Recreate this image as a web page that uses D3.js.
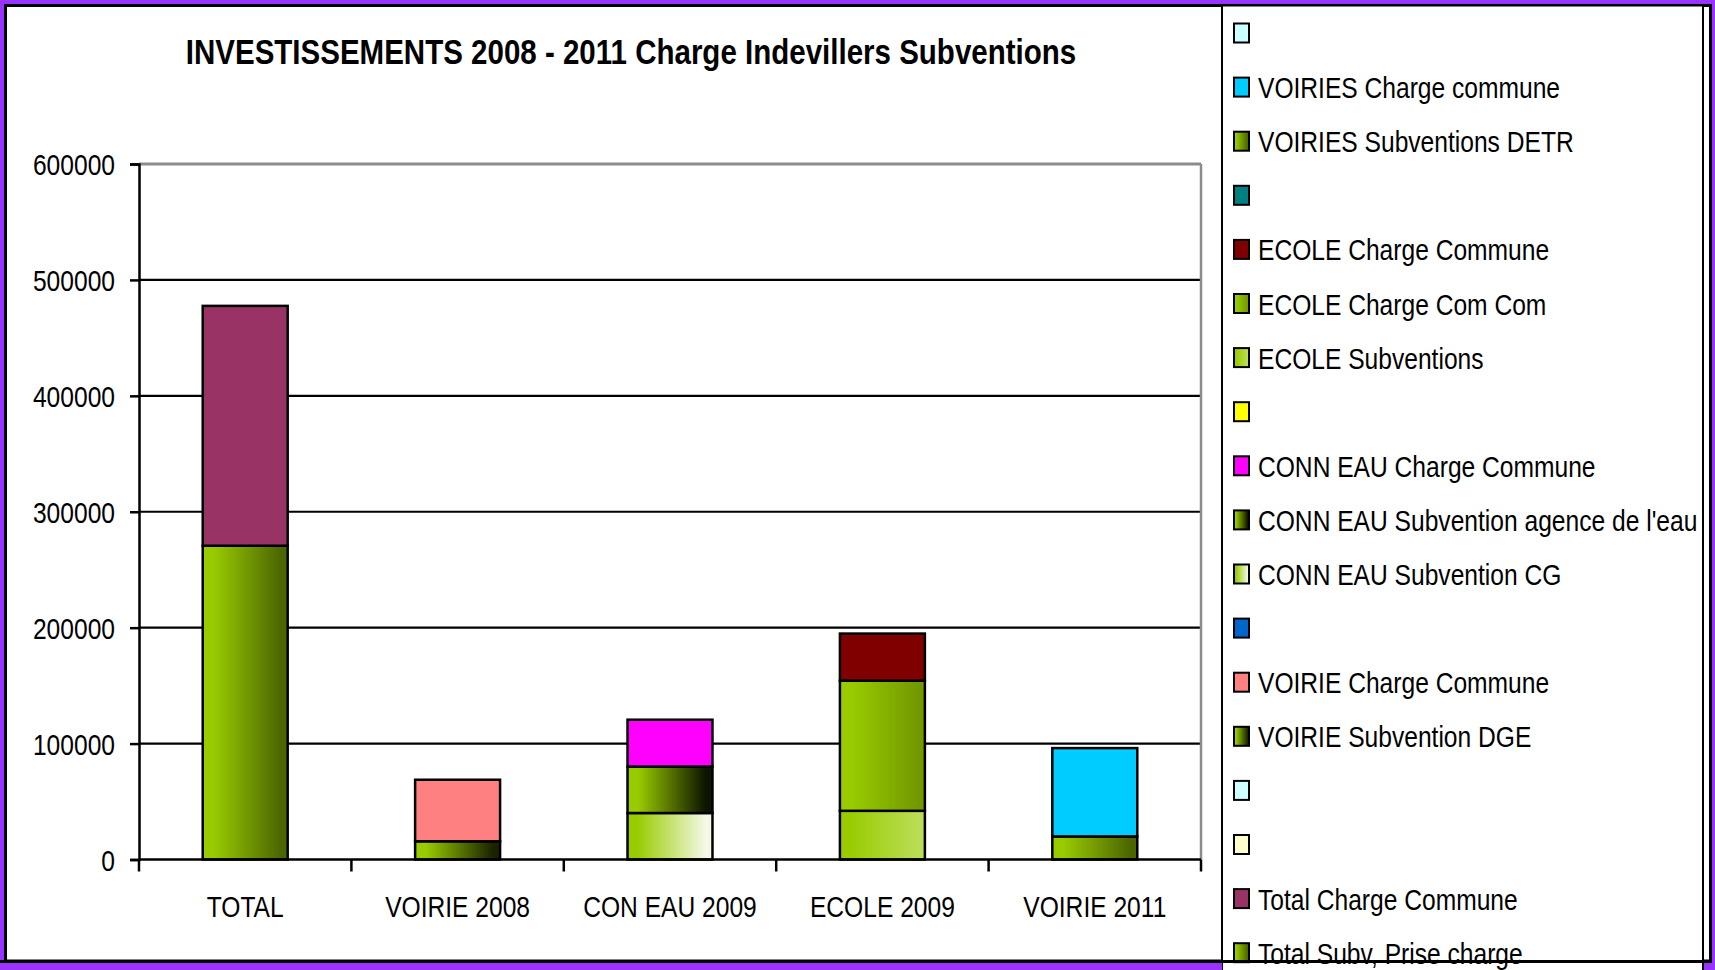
<!DOCTYPE html>
<html>
<head>
<meta charset="utf-8">
<script src="https://cdn.jsdelivr.net/npm/d3@7"></script>
<style>
  html, body { margin: 0; padding: 0; background: #9933ff; }
  svg { display: block; }
  text { font-family: "Liberation Sans", Arial, sans-serif; fill: #000; }
</style>
</head>
<body>
<svg width="1715" height="970"></svg>
<script>
// chart data
const categories = ["TOTAL", "VOIRIE 2008", "CON EAU 2009", "ECOLE 2009", "VOIRIE 2011"]

// series in stacking order (bottom first)
const seriesNames = [
  "Total Subv, Prise charge",
  "Total Charge Commune",
  "",
  "",
  "VOIRIE Subvention DGE",
  "VOIRIE Charge Commune",
  "",
  "CONN EAU Subvention CG",
  "CONN EAU Subvention agence de l'eau",
  "CONN EAU Charge Commune",
  "",
  "ECOLE Subventions",
  "ECOLE Charge Com Com",
  "ECOLE Charge Commune",
  "",
  "VOIRIES Subventions DETR",
  "VOIRIES Charge commune",
  ""
]

const seriesValues = [
  [270700, 0, 0, 0, 0],
  [206900, 0, 0, 0, 0],
  [0, 0, 0, 0, 0],
  [0, 0, 0, 0, 0],
  [0, 15700, 0, 0, 0],
  [0, 53100, 0, 0, 0],
  [0, 0, 0, 0, 0],
  [0, 0, 40100, 0, 0],
  [0, 0, 40100, 0, 0],
  [0, 0, 40400, 0, 0],
  [0, 0, 0, 0, 0],
  [0, 0, 0, 42000, 0],
  [0, 0, 0, 112300, 0],
  [0, 0, 0, 40600, 0],
  [0, 0, 0, 0, 0],
  [0, 0, 0, 0, 19900],
  [0, 0, 0, 0, 76200],
  [0, 0, 0, 0, 0]
]

// plain colour, or the end colour of a green gradient
const seriesColors = [
  "g:#4c6600", "#993366", "#ffffcc", "#ccffff",
  "g:#1a2200", "#ff8080", "#0066cc",
  "g:#f4f8e6", "g:#0d1400", "#ff00ff", "#ffff00",
  "g:#bbdd55", "g:#739900", "#800000", "#008080",
  "g:#4c6600", "#00ccff", "#ccffff"
]

const yTicks = [0, 100000, 200000, 300000, 400000, 500000, 600000]

// no narrow font installed: squeeze Liberation Sans instead
const squeeze = 0.82
let narrow = (sel, xPos) => sel
  .attr("x", xPos / squeeze)
  .attr("transform", `scale(${squeeze},1)`)

let svg = d3.select("svg")
let defs = svg.append("defs")

let fillOf = (c, i) => {
  if (!c.startsWith("g:")) return c
  let id = "grad" + i
  let g = defs.append("linearGradient").attr("id", id)
    .attr("x1", 0).attr("x2", 1).attr("y1", 0).attr("y2", 0)
  g.append("stop").attr("offset", 0).attr("stop-color", "#99cc00")
  g.append("stop").attr("offset", 0.12).attr("stop-color", "#99cc00")
  g.append("stop").attr("offset", 0.92).attr("stop-color", c.slice(2))
  g.append("stop").attr("offset", 1).attr("stop-color", c.slice(2))
  return "url(#" + id + ")"
}
let fills = seriesColors.map(fillOf)

// chart area
svg.append("rect")
  .attr("x", 5.5).attr("y", 5.5)
  .attr("width", 1705).attr("height", 955.5)
  .style("fill", "white")
  .style("stroke", "black")
  .style("stroke-width", 3)

// scales
let x = d3.scaleBand().domain(categories).range([139, 1201])
let y = d3.scaleLinear().domain([0, 600000]).range([859.5, 164])
let barW = x.bandwidth() / 2.5

// gridlines
svg.append("g").selectAll("line")
  .data(yTicks.slice(1))
  .join("line")
  .attr("x1", 139).attr("x2", 1201)
  .attr("y1", d => y(d)).attr("y2", d => y(d))
  .style("stroke", d => d === 600000 ? "#8c8c8c" : "black")
  .style("stroke-width", d => d === 600000 ? 3 : 2.2)

// right border of plot
svg.append("line")
  .attr("x1", 1201).attr("x2", 1201)
  .attr("y1", y(600000)).attr("y2", y(0))
  .style("stroke", "#8c8c8c")
  .style("stroke-width", 2.5)

// stacked bars
let stackData = categories.map((c, ci) => {
  let row = { cat: c }
  seriesValues.forEach((v, si) => row["s" + si] = v[ci])
  return row
})
let stacked = d3.stack().keys(seriesNames.map((n, i) => "s" + i))(stackData)

stacked.forEach((layer, si) => {
  svg.append("g").selectAll("rect")
    .data(layer.filter(d => d[1] - d[0] > 0))
    .join("rect")
    .attr("x", d => x(d.data.cat) + (x.bandwidth() - barW) / 2)
    .attr("width", barW)
    .attr("y", d => y(d[1]))
    .attr("height", d => y(d[0]) - y(d[1]))
    .style("fill", fills[si])
    .style("stroke", "black")
    .style("stroke-width", 2.5)
})

// y axis
let yAxis = svg.append("g")
  .attr("transform", "translate(139,0)")
  .call(d3.axisLeft(y).tickValues(yTicks).tickSize(9).tickFormat(d3.format("d")))
yAxis.select(".domain").style("stroke", "black").style("stroke-width", 2.5)
yAxis.selectAll(".tick line").style("stroke", "black").style("stroke-width", 2.5)
yAxis.selectAll("text")
  .style("font-family", "Liberation Sans, Arial, sans-serif")
  .style("font-size", "30px")
  .attr("dy", "0.35em")
  .call(narrow, -24)

// x axis with ticks between categories
let xAxisG = svg.append("g")
xAxisG.append("line")
  .attr("x1", 139).attr("x2", 1201)
  .attr("y1", y(0)).attr("y2", y(0))
  .style("stroke", "black").style("stroke-width", 2.5)
xAxisG.selectAll(".sep")
  .data(categories.map(c => x(c)).concat([1201]))
  .join("line")
  .attr("x1", d => d).attr("x2", d => d)
  .attr("y1", y(0)).attr("y2", y(0) + 12)
  .style("stroke", "black").style("stroke-width", 2.5)
xAxisG.selectAll("text")
  .data(categories)
  .join("text")
  .attr("x", d => (x(d) + x.bandwidth() / 2) / squeeze)
  .attr("transform", `scale(${squeeze},1)`)
  .attr("y", 917)
  .attr("text-anchor", "middle")
  .style("font-size", "30px")
  .text(d => d)

// title
svg.append("text")
  .attr("y", 64)
  .attr("text-anchor", "middle")
  .style("font-size", "36px")
  .style("font-weight", "bold")
  .text("INVESTISSEMENTS 2008 - 2011 Charge Indevillers Subventions")
  .call(narrow, 631)

// legend box (runs past the bottom of the chart)
svg.append("rect")
  .attr("x", 1222).attr("y", 5.5)
  .attr("width", 481).attr("height", 1000)
  .style("fill", "white")
  .style("stroke", "black")
  .style("stroke-width", 2)

let legendOrder = d3.range(seriesNames.length).reverse()
let legend = svg.append("g").selectAll("g")
  .data(legendOrder)
  .join("g")
  .attr("transform", (d, i) => `translate(1234,${33 + 54.1 * i})`)
legend.append("rect")
  .attr("x", 0).attr("y", -9.5)
  .attr("width", 15).attr("height", 19)
  .style("fill", d => fills[d])
  .style("stroke", "black")
  .style("stroke-width", 2)
legend.append("text")
  .attr("y", 11)
  .style("font-size", "30px")
  .text(d => seriesNames[d])
  .call(narrow, 24)

// bottom edge of the chart drawn over the legend
svg.append("line")
  .attr("x1", 0).attr("x2", 1715)
  .attr("y1", 961.5).attr("y2", 961.5)
  .style("stroke", "black").style("stroke-width", 3)
svg.append("rect")
  .attr("x", 0).attr("y", 963)
  .attr("width", 1222).attr("height", 10)
  .style("fill", "#9933ff")
svg.append("rect")
  .attr("x", 1712).attr("y", 0)
  .attr("width", 5).attr("height", 970)
  .style("fill", "#9933ff")
</script>
</body>
</html>
